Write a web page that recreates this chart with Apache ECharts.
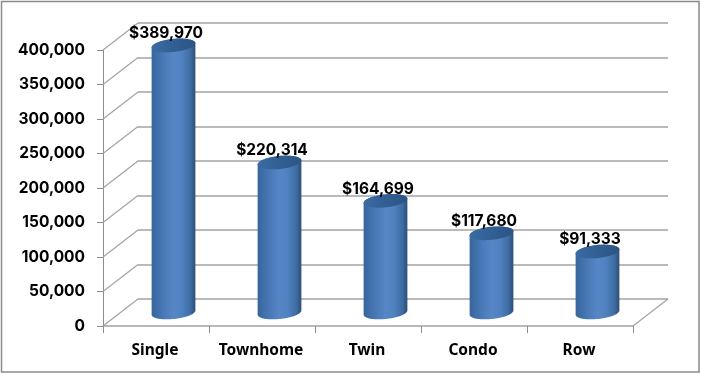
<!DOCTYPE html>
<html><head><meta charset="utf-8">
<style>html,body{margin:0;padding:0;background:#fff}#c{width:701px;height:374px}</style>
<script src="https://cdn.jsdelivr.net/npm/echarts@6/dist/echarts.min.js"></script>
</head><body><div id="c"></div>
<script>
const categories = ['Single','Townhome','Twin','Condo','Row'];
const values = [389970,220314,164699,117680,91333];
const yTicks = [0,50000,100000,150000,200000,250000,300000,350000,400000];
const DX = 35, DY = -27, GRID = '#a3a3a3';
const NUMFONT = 'Inter';
const chart = echarts.init(document.getElementById('c'));

function ellipsePts(cx, cy, a, b, phi, t0, t1, n) {
  const pts = [];
  for (let i = 0; i <= n; i++) {
    const t = t0 + (t1 - t0) * i / n;
    const x = a * Math.cos(t), y = b * Math.sin(t);
    pts.push([cx + x * Math.cos(phi) - y * Math.sin(phi), cy + x * Math.sin(phi) + y * Math.cos(phi)]);
  }
  return pts;
}
const PHI = -6 * Math.PI / 180;
const body = new echarts.graphic.LinearGradient(0, 0, 1, 0, [
  {offset: 0, color: '#37659b'}, {offset: .2, color: '#4474b0'}, {offset: .5, color: '#5686c6'},
  {offset: .7, color: '#4f81bf'}, {offset: .88, color: '#3f6da3'}, {offset: 1, color: '#2b4f79'}]);
const cap = new echarts.graphic.LinearGradient(0, 0, 1, 0, [
  {offset: 0, color: '#3b6ba4'}, {offset: .5, color: '#325f93'}, {offset: 1, color: '#2c5482'}]);

chart.setOption({
  animation: false,
  backgroundColor: '#fff',
  graphic: [{type:'rect', silent:true, z:-1, shape:{x:1.5,y:1.5,width:697.5,height:370.5},
    style:{fill:'none', stroke:'#8a8a8a', lineWidth:1.5}}],
  grid: [
    {left:103, top:50, width:530, height:276},
    {left:103+DX, top:50+DY, width:530, height:276}
  ],
  xAxis: [
    {type:'category', gridIndex:0, data:categories, boundaryGap:true,
     axisLine:{lineStyle:{color:GRID,width:1.5}}, axisTick:{show:true,length:7,lineStyle:{color:'#8c8c8c'}},
     axisLabel:{margin:17,padding:[0,2,0,0],color:'#000',fontFamily:'"Noto Sans"',fontWeight:'bold',fontSize:15.5,interval:0}},
    {type:'category', gridIndex:1, data:categories, show:false}
  ],
  yAxis: [
    {type:'value', gridIndex:0, min:0, max:400000, interval:50000,
     axisLine:{show:true,lineStyle:{color:'#8c8c8c'}}, axisTick:{show:true,length:6,lineStyle:{color:'#8c8c8c'}},
     splitLine:{show:false},
     axisLabel:{margin:18,padding:[3,0,0,0],color:'#000',fontFamily:NUMFONT,fontWeight:'bold',fontSize:15.5,
       formatter:v=>v.toLocaleString('en-US')}},
    {type:'value', gridIndex:1, min:0, max:400000, interval:50000,
     axisLine:{show:false}, axisTick:{show:false}, axisLabel:{show:false},
     splitLine:{show:true,lineStyle:{color:GRID,width:1.5}}}
  ],
  series: [
    {type:'custom', xAxisIndex:0, yAxisIndex:0, silent:true, z:1, clip:false,
     data: yTicks.map(v=>[0,v]),
     renderItem(p, api){
       const cs = p.coordSys, y = api.coord([0, api.value(1)])[1];
       const els = [{type:'line', shape:{x1:cs.x,y1:y,x2:cs.x+DX,y2:y+DY}, style:{stroke:GRID,lineWidth:1.2}}];
       if (api.value(1) === 0) els.push({type:'line', shape:{x1:cs.x+cs.width,y1:y,x2:cs.x+cs.width+DX,y2:y+DY}, style:{stroke:GRID,lineWidth:1.2}});
       return {type:'group', children:els};
     }},
    {type:'custom', xAxisIndex:0, yAxisIndex:0, silent:true, z:3, clip:false,
     data: categories.map((c,i)=>[i, values[i]]),
     renderItem(p, api){
       const i = api.value(0), v = api.value(1);
       const [x, yTop] = api.coord([i, v]);
       const yBase = api.coord([i, 0])[1];
       const cx = x + DX/2, a = 22, b = 6.5;
       const t = yTop + DY/2 + 2, o = yBase + DY/2;
       const lower = ellipsePts(cx, o, a, b, PHI, 0, Math.PI, 40);
       const upper = ellipsePts(cx, t, a, b, PHI, Math.PI, 2*Math.PI, 40);
       return {type:'group', children:[
         {type:'polygon', shape:{points:upper.concat(lower)}, style:{fill:body}},
         {type:'polygon', shape:{points:ellipsePts(cx,t,a,b,PHI,0,2*Math.PI,60)}, style:{fill:cap}},
         {type:'text', z2:10, style:{x:cx-7.5, y:t-12, text:'$'+v.toLocaleString('en-US'), fill:'#000',
           font:'bold 15.5px '+NUMFONT, textAlign:'center', textVerticalAlign:'middle'}}
       ]};
     }}
  ]
});
</script></body></html>
